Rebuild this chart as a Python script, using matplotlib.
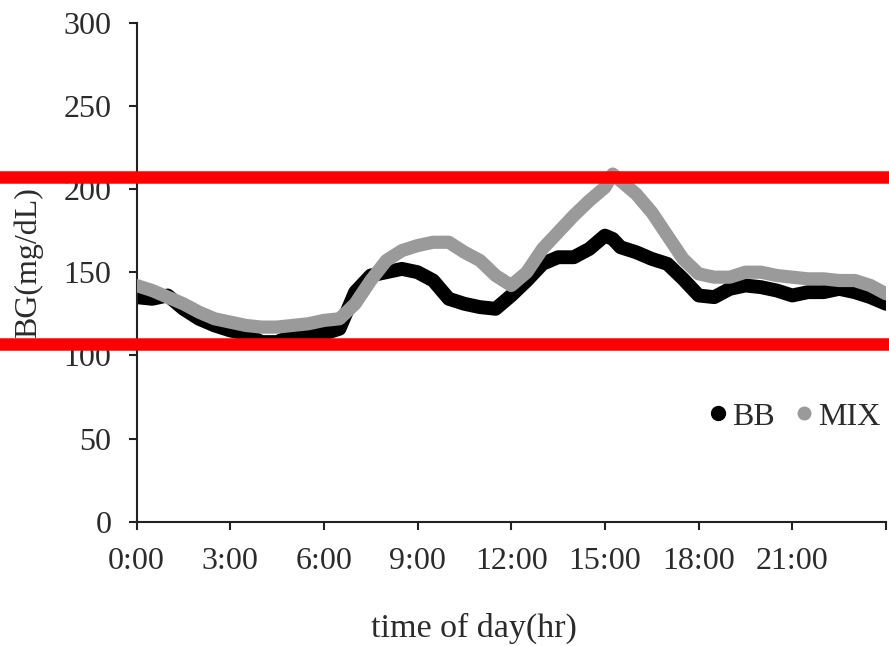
import matplotlib
matplotlib.use("Agg")
import matplotlib.pyplot as plt
import matplotlib.transforms as mtransforms
from matplotlib.lines import Line2D

hours = [0, 0.5, 1, 1.5, 2, 2.5, 3, 3.5, 4, 4.5, 5, 5.5, 6, 6.5, 7, 7.5, 8, 8.5,
         9, 9.5, 10, 10.5, 11, 11.5, 12, 12.5, 13, 13.5, 14, 14.5, 15, 15.25, 15.5,
         16, 16.5, 17, 17.5, 18, 18.5, 19, 19.5, 20, 20.5, 21, 21.5, 22, 22.5, 23,
         23.5, 24]
bb = [135, 134, 136, 128, 122, 118, 115, 113, 108, 108, 112, 113, 113, 116, 138,
      148, 150, 152, 150, 145, 134, 131, 129, 128, 136, 145, 155, 159, 159, 164,
      172, 170, 165, 162, 158, 155, 146, 136, 135, 140, 142, 141, 139, 136, 138,
      138, 140, 138, 135, 131]
mix = [142, 139, 135, 131, 126, 122, 120, 118, 117, 117, 118, 119, 121, 122, 131,
       145, 157, 163, 166, 168, 168, 162, 157, 148, 142, 150, 164, 174, 184, 193,
       201, 209, 205, 197, 186, 172, 158, 149, 147, 147, 150, 150, 148, 147, 146,
       146, 145, 145, 142, 137]
xticks = [0, 3, 6, 9, 12, 15, 18, 21, 24]
xticklabels = ["0:00", "3:00", "6:00", "9:00", "12:00", "15:00", "18:00", "21:00", ""]
yticks = [0, 50, 100, 150, 200, 250, 300]
limits = [207, 107]

plt.rcParams['font.family'] = ['Liberation Serif', 'DejaVu Serif']
fs = 23
tc = '#2b2b2b'

fig = plt.figure(figsize=(8.89, 6.46), dpi=100)
ax = fig.add_axes([136.5 / 889, 124.3 / 646, (886 - 136.5) / 889, 499 / 646])

ax.plot(hours, bb, color='black', lw=10, solid_capstyle='round',
        solid_joinstyle='round', zorder=2)
ax.plot(hours, mix, color='#9a9a9a', lw=9.5, solid_capstyle='round',
        solid_joinstyle='round', zorder=3)

ax.set_xlim(0, 24)
ax.set_ylim(0, 300)
ax.set_xticks(xticks)
ax.set_xticklabels(xticklabels)
ax.set_yticks(yticks)
for s in ['top', 'right']:
    ax.spines[s].set_visible(False)
for s in ['left', 'bottom']:
    ax.spines[s].set_linewidth(1.5)
    ax.spines[s].set_color('#222222')
ax.tick_params(direction='out', length=6, width=1.5, labelsize=fs,
               colors='#222222', labelcolor=tc)
ax.tick_params(axis='x', pad=12)
ax.tick_params(axis='y', pad=12)
ax.set_xlabel("time of day(hr)", fontsize=24.5, color=tc)
ax.xaxis.set_label_coords(0.45, -0.183)
ax.set_ylabel("BG(mg/dL)", fontsize=fs, color=tc)
ax.yaxis.set_label_coords(-0.125, 0.52)

h1 = Line2D([], [], color='black', marker='o', ls='none', markersize=10)
h2 = Line2D([], [], color='#9a9a9a', marker='o', ls='none', markersize=9)
ax.legend([h1, h2], ["BB", "MIX"], loc='center right', bbox_to_anchor=(1.01, 0.21),
          ncol=2, frameon=False, fontsize=fs, handlelength=0.4,
          handletextpad=0.25, columnspacing=0.7, labelcolor=tc,
          borderaxespad=0.0)

trans = mtransforms.blended_transform_factory(fig.transFigure, ax.transData)
for v in limits:
    fig.add_artist(Line2D([0, 1], [v, v], transform=trans, color='#ff0000',
                          lw=9, zorder=10))

fig.savefig("out.png", dpi=100)
